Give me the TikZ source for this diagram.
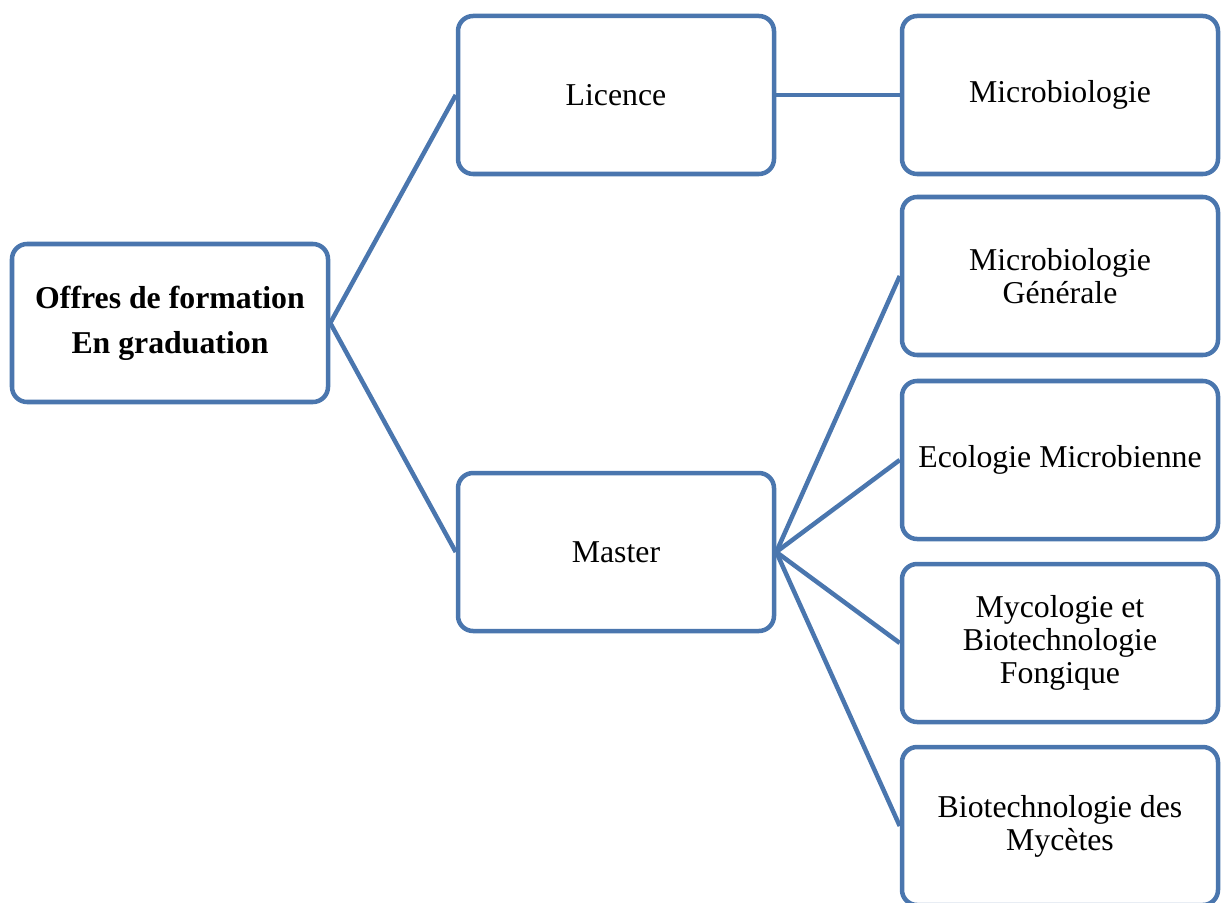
\documentclass[tikz,border=0pt]{standalone}
\usepackage{fontspec}
\setmainfont{Liberation Serif}
\usepackage{tikz}
\newcommand{\px}{0.3775pt}
\newcommand{\lb}{316}
\newcommand{\hb}{158}
\definecolor{bleuword}{RGB}{74,118,174}
\tikzstyle{bord}=[line width=1.7pt,draw=bleuword]
\tikzstyle{boite}=[bord,rectangle,rounded corners=5.7pt,fill=white,
  minimum width=\lb*\px,minimum height=\hb*\px,inner sep=0,align=center,
  font=\fontsize{12}{12.5}\selectfont]
\tikzstyle{racine}=[boite,font=\fontsize{12}{17}\selectfont\bfseries]
\tikzstyle{lien}=[line width=1.7pt,bleuword]
\begin{document}
\begin{tikzpicture}[x=\px,y=-\px]
\useasboundingbox (0,0) rectangle (1221,903);
\clip (0,0) rectangle (1221,903);

% niveaux
\node[racine](offre) at (170,323) {Offres de formation\\En graduation};
\node[boite](licence) at (616,95) {Licence};
\node[boite](master) at (616,552) {Master};

% specialites
\node[boite](micro) at (1060,95) {Microbiologie};
\node[boite](mg) at (1060,276) {Microbiologie\\G\'en\'erale};
\node[boite](em) at (1060,460) {Ecologie Microbienne};
\node[boite](mb) at (1060,643) {Mycologie et\\Biotechnologie\\Fongique};
\node[boite](bm) at (1060,826) {Biotechnologie des\\Myc\`etes};

% liens
\draw[lien] (offre.east) -- (licence.west);
\draw[lien] (offre.east) -- (master.west);
\draw[lien] (licence.east) -- (micro.west);
\foreach \n in {mg,em,mb,bm}
\draw[lien] (master.east) -- (\n.west);
\end{tikzpicture}
\end{document}
